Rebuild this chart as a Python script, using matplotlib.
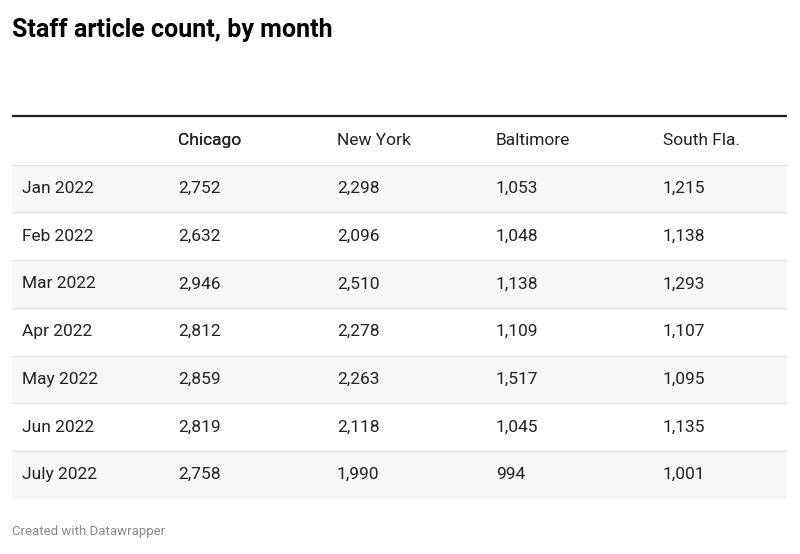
import matplotlib
matplotlib.use("Agg")
import matplotlib.pyplot as plt
from matplotlib.patches import Rectangle

plt.rcParams['font.family'] = ['Roboto', 'DejaVu Sans']

title = "Staff article count, by month"
columns = ["Chicago", "New York", "Baltimore", "South Fla."]
months = ["Jan 2022", "Feb 2022", "Mar 2022", "Apr 2022", "May 2022", "Jun 2022", "July 2022"]
chicago = [2752, 2632, 2946, 2812, 2859, 2819, 2758]
new_york = [2298, 2096, 2510, 2278, 2263, 2118, 1990]
baltimore = [1053, 1048, 1138, 1109, 1517, 1045, 994]
south_fla = [1215, 1138, 1293, 1107, 1095, 1135, 1001]
footer = "Created with Datawrapper"

W, H = 800, 554
fig = plt.figure(figsize=(W/100, H/100), dpi=100)
ax = fig.add_axes([0, 0, 1, 1])
ax.set_xlim(0, W); ax.set_ylim(H, 0); ax.axis('off')

ax.text(12, 30, title, fontsize=18, fontweight='bold', va='center', ha='left', color='#000')
ax.plot([12, 787], [116, 116], color='#222', lw=1.6, solid_capstyle='butt')

colx = [22, 178, 337, 496, 663]
top = 117
rh = 47.7
ax.text(colx[1], top + rh/2, columns[0], fontsize=12.5, va='center', color='#222')
for i, c in enumerate(columns):
    ax.text(colx[i+1], top + rh/2, c, fontsize=12.5, va='center', color='#222')
ax.plot([12, 787], [top+rh, top+rh], color='#ddd', lw=0.8)

data = list(zip(chicago, new_york, baltimore, south_fla))
for r, m in enumerate(months):
    y0 = top + rh*(r+1)
    if r % 2 == 0:
        ax.add_patch(Rectangle((12, y0), 775, rh, color='#f7f7f7', lw=0))
    ax.text(colx[0], y0 + rh/2, m, fontsize=12.5, va='center', color='#222')
    for j, v in enumerate(data[r]):
        ax.text(colx[j+1], y0 + rh/2, f"{v:,}", fontsize=12.5, va='center', color='#222')
    if r < len(months)-1:
        ax.plot([12, 787], [y0+rh, y0+rh], color='#e3e3e3', lw=0.8)

ax.text(12, 532, footer, fontsize=9.5, va='center', color='#888')
fig.savefig("out.png", dpi=100)
